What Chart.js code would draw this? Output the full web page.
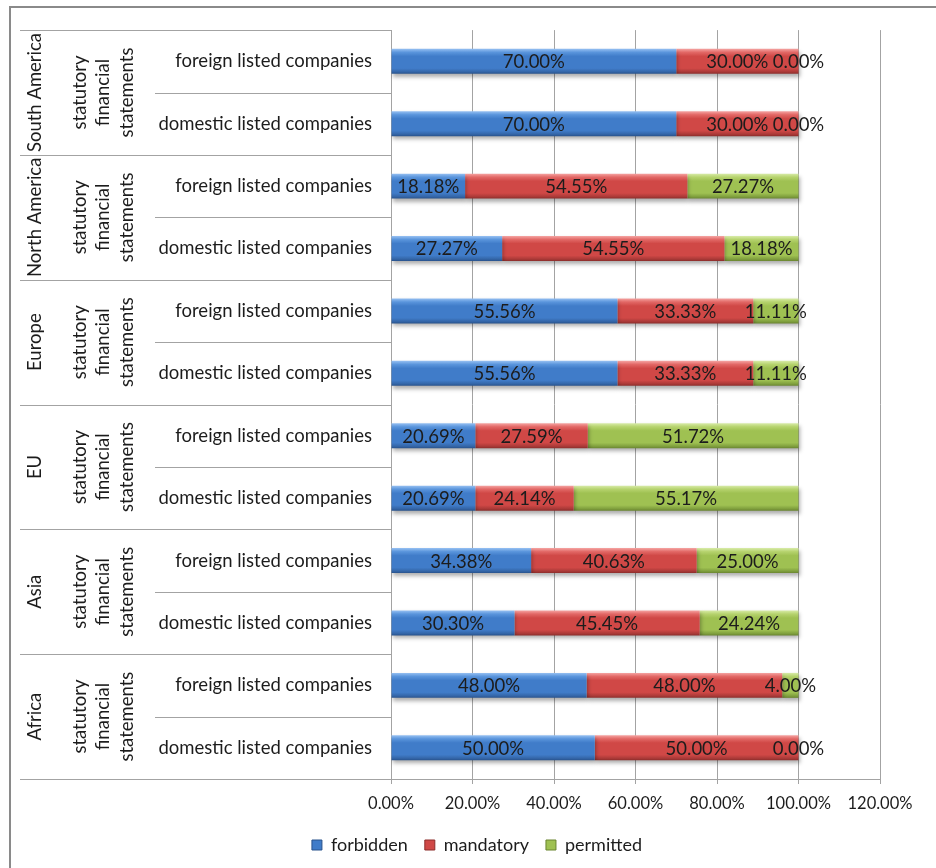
<!DOCTYPE html>
<html>
<head>
<meta charset="utf-8">
<script src="https://cdn.jsdelivr.net/npm/chart.js@4.4.0/dist/chart.umd.min.js"></script>
<style>
  html, body { margin: 0; padding: 0; background: #ffffff; }
  #wrap { width: 936px; height: 868px; position: relative; }
</style>
</head>
<body>
<div id="wrap"><canvas id="chart" width="936" height="868"></canvas></div>
<script>
// Outer grouping (two rows per region), listed top to bottom
const regions = ['South America', 'North America', 'Europe', 'EU', 'Asia', 'Africa'];
// Middle grouping label, one line per entry
const statementLines = ['statutory', 'financial', 'statements'];
// Inner category labels, top to bottom
const categories = [
  'foreign listed companies', 'domestic listed companies',
  'foreign listed companies', 'domestic listed companies',
  'foreign listed companies', 'domestic listed companies',
  'foreign listed companies', 'domestic listed companies',
  'foreign listed companies', 'domestic listed companies',
  'foreign listed companies', 'domestic listed companies'
];
// Shares in percent
const forbidden = [70.00, 70.00, 18.18, 27.27, 55.56, 55.56, 20.69, 20.69, 34.38, 30.30, 48.00, 50.00];
const mandatory = [30.00, 30.00, 54.55, 54.55, 33.33, 33.33, 27.59, 24.14, 40.63, 45.45, 48.00, 50.00];
const permitted = [0.00, 0.00, 27.27, 18.18, 11.11, 11.11, 51.72, 55.17, 25.00, 24.24, 4.00, 0.00];
const seriesNames = ['forbidden', 'mandatory', 'permitted'];
// Value axis range
const xMin = 0, xMax = 120, xStep = 20;

const FONT = "Lato, 'Open Sans', sans-serif";
const TEXT = '#1c1c1c';
const LINE = '#a3a3a3';
const PLOT_LEFT = 391;
const PAD_LEFT = 74;

// Bevel-like colour ramps: highlight, light, base, dark, darkest
const palettes = {
  forbidden: ['#96c0f2', '#5a95dc', '#407cc9', '#3466a8', '#28528c'],
  mandatory: ['#f5a4a2', '#e26866', '#d04846', '#ab3a38', '#8c2d2b'],
  permitted: ['#d8eba8', '#b6d36e', '#9fc152', '#80a03e', '#6a8530']
};

function barFill(p) {
  return (ctx) => {
    const chart = ctx.chart;
    const y = chart.scales && chart.scales.y;
    if (!y || ctx.type !== 'data') return p[2];
    const cy = y.getPixelForValue(ctx.dataIndex);
    const row = Math.abs(y.getPixelForValue(1) - y.getPixelForValue(0));
    if (!isFinite(cy) || !isFinite(row) || row === 0) return p[2];
    const t = row * 0.4;
    const g = chart.ctx.createLinearGradient(0, cy - t / 2, 0, cy + t / 2);
    g.addColorStop(0, p[0]);
    g.addColorStop(0.14, p[1]);
    g.addColorStop(0.3, p[2]);
    g.addColorStop(0.78, p[2]);
    g.addColorStop(0.92, p[3]);
    g.addColorStop(1, p[4]);
    return g;
  };
}

// White page and the chart frame
const frame = {
  id: 'frame',
  beforeDraw(chart) {
    const ctx = chart.ctx;
    ctx.save();
    ctx.fillStyle = '#ffffff';
    ctx.fillRect(0, 0, chart.width, chart.height);
    ctx.fillStyle = '#8a8a8a';
    ctx.fillRect(9, 6, chart.width, 2);
    ctx.fillRect(9, 6, 2, chart.height);
    ctx.restore();
  }
};

// Soft drop shadow under the bars
const barShadow = {
  id: 'barShadow',
  beforeDatasetDraw(chart) {
    const ctx = chart.ctx;
    ctx.save();
    ctx.shadowColor = 'rgba(0,0,0,0.32)';
    ctx.shadowBlur = 4;
    ctx.shadowOffsetX = 1;
    ctx.shadowOffsetY = 3;
  },
  afterDatasetDraw(chart) {
    chart.ctx.restore();
  }
};

// Percentage label centred on each segment
const valueLabels = {
  id: 'valueLabels',
  afterDatasetsDraw(chart) {
    const ctx = chart.ctx;
    ctx.save();
    ctx.font = '18.5px ' + FONT;
    ctx.fillStyle = TEXT;
    ctx.textAlign = 'center';
    ctx.textBaseline = 'middle';
    chart.data.datasets.forEach((ds, di) => {
      const meta = chart.getDatasetMeta(di);
      meta.data.forEach((bar, i) => {
        const { x, base, y } = bar.getProps(['x', 'base', 'y'], true);
        ctx.fillText(ds.data[i].toFixed(2) + '%', (x + base) / 2, y + 1);
      });
    });
    ctx.restore();
  }
};

// Region and statement-type columns with their separators
const groupAxis = {
  id: 'groupAxis',
  afterDraw(chart) {
    const ctx = chart.ctx;
    const area = chart.chartArea;
    const y = chart.scales.y;
    const row = y.getPixelForValue(1) - y.getPixelForValue(0);
    ctx.save();
    ctx.strokeStyle = LINE;
    ctx.lineWidth = 1;
    for (let i = 0; i <= categories.length; i++) {
      const py = Math.round(y.getPixelForValue(i) - row / 2) + 0.5;
      const x0 = (i % 2 === 0) ? 20 : 155;
      ctx.beginPath();
      ctx.moveTo(x0, py);
      ctx.lineTo(area.left, py);
      ctx.stroke();
    }
    ctx.fillStyle = TEXT;
    ctx.font = '18.5px ' + FONT;
    ctx.textAlign = 'center';
    ctx.textBaseline = 'middle';
    const lineX = [80, 103, 127];
    regions.forEach((name, g) => {
      const cy = (y.getPixelForValue(2 * g) + y.getPixelForValue(2 * g + 1)) / 2;
      ctx.save();
      ctx.translate(35, cy);
      ctx.rotate(-Math.PI / 2);
      ctx.fillText(name, 0, 0);
      ctx.restore();
      statementLines.forEach((txt, k) => {
        ctx.save();
        ctx.translate(lineX[k], cy);
        ctx.rotate(-Math.PI / 2);
        ctx.fillText(txt, 0, 0);
        ctx.restore();
      });
    });
    ctx.restore();
  }
};

const series = [forbidden, mandatory, permitted];

new Chart(document.getElementById('chart'), {
  type: 'bar',
  data: {
    labels: categories,
    datasets: series.map((vals, i) => ({
      label: seriesNames[i],
      data: vals,
      backgroundColor: barFill(palettes[seriesNames[i]]),
      borderWidth: 0,
      barPercentage: 0.4,
      categoryPercentage: 1.0
    }))
  },
  options: {
    indexAxis: 'y',
    responsive: false,
    animation: false,
    devicePixelRatio: 1,
    layout: { padding: { top: 28, right: 56, bottom: 4, left: PAD_LEFT } },
    scales: {
      x: {
        stacked: true,
        min: xMin,
        max: xMax,
        ticks: {
          stepSize: xStep,
          color: TEXT,
          padding: 10,
          font: { family: FONT, size: 16.5 },
          callback: (v) => Number(v).toFixed(2) + '%'
        },
        grid: { color: LINE, lineWidth: 1, drawTicks: true, tickLength: 5 },
        border: { color: LINE, width: 1 },
        afterFit: (s) => { s.height = 40; }
      },
      y: {
        stacked: true,
        ticks: {
          color: TEXT,
          padding: 19,
          font: { family: FONT, size: 18.5 }
        },
        grid: { display: false, drawTicks: false },
        border: { color: LINE, width: 1 },
        afterFit: (s) => { s.width = PLOT_LEFT - PAD_LEFT; }
      }
    },
    plugins: {
      tooltip: { enabled: false },
      legend: {
        position: 'bottom',
        labels: {
          color: TEXT,
          font: { family: FONT, size: 18 },
          boxWidth: 10,
          boxHeight: 10,
          padding: 17,
          generateLabels: (chart) => chart.data.datasets.map((ds, i) => ({
            text: ds.label,
            fillStyle: palettes[ds.label][2],
            strokeStyle: palettes[ds.label][4],
            lineWidth: 1,
            fontColor: TEXT,
            datasetIndex: i,
            hidden: false
          }))
        }
      }
    }
  },
  plugins: [frame, barShadow, valueLabels, groupAxis]
});
</script>
</body>
</html>
